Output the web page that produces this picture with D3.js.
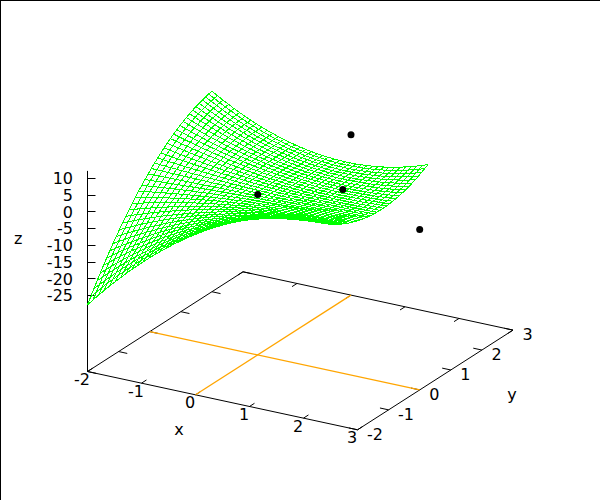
<!DOCTYPE html>
<html>
<head>
<meta charset="utf-8">
<script src="https://cdn.jsdelivr.net/npm/d3@7/dist/d3.min.js"></script>
<style>
html,body{margin:0;padding:0;background:#fff;}
svg{display:block;}
text{font-family:"DejaVu Sans",sans-serif;font-size:16px;fill:#000;}
</style>
</head>
<body>
<script>
const xTicks = [-2,-1,0,1,2,3];
const yTicks = [-2,-1,0,1,2,3];
const zTicks = [10,5,0,-5,-10,-15,-20,-25];
const sampleX = [-2,-1.8974,-1.7949,-1.6923,-1.5897,-1.4872,-1.3846,-1.2821,-1.1795,-1.0769,-0.9744,-0.8718,-0.7692,-0.6667,-0.5641,-0.4615,-0.359,-0.2564,-0.1538,-0.0513,0.0513,0.1538,0.2564,0.359,0.4615,0.5641,0.6667,0.7692,0.8718,0.9744,1.0769,1.1795,1.2821,1.3846,1.4872,1.5897,1.6923,1.7949,1.8974,2];
const sampleY = [-2,-1.8974,-1.7949,-1.6923,-1.5897,-1.4872,-1.3846,-1.2821,-1.1795,-1.0769,-0.9744,-0.8718,-0.7692,-0.6667,-0.5641,-0.4615,-0.359,-0.2564,-0.1538,-0.0513,0.0513,0.1538,0.2564,0.359,0.4615,0.5641,0.6667,0.7692,0.8718,0.9744,1.0769,1.1795,1.2821,1.3846,1.4872,1.5897,1.6923,1.7949,1.8974,2];
// Surface heights; the surface is mirror-symmetric in x and y, so each row i holds columns j = i..39.
const surfaceUpper = [
[-28,-26.18,-24.39,-22.65,-20.95,-19.3,-17.68,-16.11,-14.58,-13.09,-11.64,-10.24,-8.88,-7.56,-6.28,-5.04,-3.85,-2.7,-1.59,-0.52,0.51,1.49,2.43,3.33,4.19,5,5.78,6.51,7.2,7.84,8.45,9.01,9.53,10.01,10.45,10.84,11.2,11.51,11.78,12],
[-24.46,-22.79,-21.16,-19.57,-18.02,-16.5,-15.03,-13.6,-12.21,-10.86,-9.54,-8.27,-7.04,-5.85,-4.69,-3.58,-2.51,-1.47,-0.48,0.47,1.39,2.26,3.09,3.89,4.64,5.35,6.03,6.66,7.26,7.81,8.32,8.8,9.23,9.63,9.98,10.3,10.57,10.81,11],
[-21.23,-19.71,-18.22,-16.77,-15.36,-13.98,-12.65,-11.35,-10.09,-8.87,-7.68,-6.54,-5.43,-4.35,-3.32,-2.32,-1.37,-0.45,0.44,1.28,2.09,2.86,3.59,4.29,4.94,5.56,6.14,6.69,7.19,7.66,8.09,8.48,8.83,9.15,9.43,9.67,9.87,10.04],
[-18.29,-16.9,-15.55,-14.24,-12.96,-11.72,-10.51,-9.34,-8.21,-7.11,-6.05,-5.02,-4.03,-3.07,-2.15,-1.26,-0.41,0.4,1.18,1.93,2.63,3.31,3.94,4.54,5.11,5.64,6.13,6.59,7.02,7.4,7.75,8.07,8.35,8.6,8.8,8.98,9.12],
[-15.62,-14.37,-13.15,-11.97,-10.82,-9.7,-8.62,-7.57,-6.55,-5.57,-4.62,-3.71,-2.82,-1.97,-1.16,-0.38,0.37,1.09,1.77,2.42,3.03,3.61,4.16,4.67,5.15,5.6,6.01,6.39,6.74,7.05,7.33,7.58,7.79,7.97,8.12,8.23],
[-13.21,-12.09,-11,-9.94,-8.91,-7.91,-6.95,-6.01,-5.11,-4.24,-3.4,-2.59,-1.81,-1.06,-0.35,0.34,0.99,1.61,2.2,2.76,3.29,3.79,4.25,4.69,5.09,5.46,5.8,6.11,6.39,6.64,6.85,7.03,7.19,7.31,7.4],
[-11.06,-10.06,-9.09,-8.14,-7.23,-6.34,-5.49,-4.66,-3.86,-3.1,-2.36,-1.65,-0.97,-0.31,0.31,0.9,1.47,2,2.51,2.99,3.44,3.85,4.24,4.6,4.94,5.24,5.51,5.76,5.97,6.16,6.31,6.44,6.54,6.61],
[-9.15,-8.26,-7.4,-6.57,-5.76,-4.98,-4.23,-3.51,-2.81,-2.14,-1.49,-0.88,-0.29,0.28,0.81,1.32,1.81,2.26,2.69,3.09,3.46,3.81,4.13,4.42,4.69,4.93,5.14,5.33,5.49,5.62,5.72,5.8,5.85],
[-7.46,-6.68,-5.92,-5.19,-4.49,-3.81,-3.16,-2.53,-1.92,-1.34,-0.79,-0.26,0.25,0.73,1.19,1.62,2.03,2.41,2.76,3.1,3.4,3.68,3.94,4.17,4.38,4.57,4.72,4.86,4.97,5.05,5.11,5.14],
[-5.98,-5.3,-4.65,-4.01,-3.41,-2.82,-2.26,-1.71,-1.2,-0.7,-0.23,0.22,0.65,1.06,1.44,1.8,2.14,2.45,2.74,3.01,3.26,3.48,3.68,3.86,4.02,4.15,4.26,4.35,4.41,4.45,4.47],
[-4.7,-4.12,-3.56,-3.02,-2.5,-2,-1.52,-1.06,-0.62,-0.2,0.2,0.57,0.93,1.27,1.58,1.88,2.15,2.4,2.64,2.85,3.04,3.21,3.36,3.5,3.61,3.7,3.76,3.81,3.84,3.85],
[-3.61,-3.11,-2.64,-2.18,-1.74,-1.32,-0.92,-0.54,-0.18,0.17,0.5,0.81,1.1,1.37,1.63,1.87,2.08,2.28,2.46,2.63,2.77,2.9,3.01,3.1,3.17,3.22,3.25,3.27,3.27],
[-2.69,-2.27,-1.88,-1.5,-1.14,-0.79,-0.46,-0.15,0.15,0.43,0.69,0.94,1.17,1.39,1.59,1.77,1.94,2.09,2.23,2.35,2.45,2.54,2.61,2.67,2.7,2.73,2.73,2.72],
[-1.93,-1.59,-1.27,-0.96,-0.67,-0.39,-0.13,0.12,0.36,0.58,0.79,0.99,1.17,1.33,1.49,1.62,1.75,1.86,1.96,2.04,2.11,2.16,2.2,2.23,2.24,2.24,2.22],
[-1.31,-1.05,-0.79,-0.55,-0.32,-0.1,0.1,0.3,0.48,0.65,0.81,0.96,1.09,1.21,1.32,1.42,1.51,1.59,1.65,1.7,1.74,1.77,1.79,1.79,1.78,1.77],
[-0.84,-0.63,-0.44,-0.26,-0.08,0.08,0.24,0.38,0.51,0.64,0.75,0.86,0.96,1.04,1.12,1.19,1.24,1.29,1.33,1.36,1.37,1.38,1.38,1.37,1.35],
[-0.48,-0.33,-0.19,-0.06,0.06,0.18,0.29,0.39,0.48,0.57,0.64,0.72,0.78,0.83,0.88,0.92,0.96,0.98,1,1.01,1.01,1.01,1,0.98],
[-0.23,-0.14,-0.04,0.04,0.12,0.2,0.27,0.33,0.39,0.44,0.49,0.53,0.57,0.6,0.63,0.65,0.66,0.67,0.68,0.68,0.67,0.66,0.64],
[-0.08,-0.03,0.03,0.07,0.12,0.16,0.19,0.23,0.26,0.28,0.31,0.33,0.34,0.36,0.37,0.38,0.38,0.38,0.38,0.38,0.37,0.35],
[-0.01,0.01,0.02,0.04,0.05,0.06,0.07,0.08,0.09,0.1,0.1,0.11,0.11,0.12,0.12,0.12,0.12,0.12,0.12,0.11,0.11],
[-0.01,-0.02,-0.04,-0.05,-0.06,-0.07,-0.08,-0.09,-0.09,-0.1,-0.1,-0.11,-0.11,-0.11,-0.11,-0.11,-0.11,-0.11,-0.1,-0.1],
[-0.06,-0.1,-0.14,-0.17,-0.2,-0.22,-0.25,-0.26,-0.28,-0.29,-0.3,-0.31,-0.31,-0.31,-0.31,-0.3,-0.29,-0.28,-0.26],
[-0.16,-0.22,-0.27,-0.32,-0.36,-0.39,-0.42,-0.44,-0.46,-0.47,-0.48,-0.48,-0.48,-0.47,-0.46,-0.44,-0.41,-0.38],
[-0.29,-0.36,-0.42,-0.47,-0.52,-0.55,-0.58,-0.6,-0.62,-0.63,-0.62,-0.62,-0.6,-0.58,-0.55,-0.51,-0.46],
[-0.44,-0.51,-0.58,-0.63,-0.67,-0.7,-0.73,-0.74,-0.74,-0.74,-0.72,-0.7,-0.66,-0.62,-0.56,-0.5],
[-0.6,-0.67,-0.72,-0.77,-0.8,-0.83,-0.84,-0.84,-0.82,-0.8,-0.76,-0.71,-0.65,-0.58,-0.49],
[-0.74,-0.8,-0.85,-0.88,-0.9,-0.91,-0.9,-0.88,-0.84,-0.79,-0.72,-0.64,-0.55,-0.45],
[-0.87,-0.91,-0.94,-0.96,-0.95,-0.94,-0.9,-0.85,-0.78,-0.7,-0.6,-0.49,-0.36],
[-0.96,-0.98,-0.99,-0.98,-0.95,-0.9,-0.83,-0.75,-0.64,-0.52,-0.38,-0.22],
[-1,-1,-0.97,-0.93,-0.86,-0.78,-0.68,-0.55,-0.4,-0.24,-0.05],
[-0.98,-0.94,-0.89,-0.8,-0.7,-0.57,-0.42,-0.25,-0.05,0.17],
[-0.89,-0.81,-0.71,-0.59,-0.43,-0.26,-0.05,0.17,0.42],
[-0.72,-0.59,-0.44,-0.26,-0.06,0.18,0.44,0.72],
[-0.44,-0.26,-0.06,0.18,0.45,0.74,1.07],
[-0.06,0.18,0.45,0.75,1.09,1.45],
[0.45,0.76,1.1,1.47,1.88],
[1.1,1.48,1.89,2.34],
[1.9,2.36,2.85],
[2.86,3.41],
[4]
];
const pointX = [0,0,3,1];
const pointY = [0,3,0,1];
const pointZ = [0,0,0,-1];

const surfaceAt = (i,j) => i<=j ? surfaceUpper[i][j-i] : surfaceUpper[j][i-j];

const svg = d3.select("body").append("svg").attr("width",600).attr("height",500);
svg.append("rect").attr("width",600).attr("height",500).attr("fill","#fff");

const ox = 87.5, oy = 371.5;
const xToDx = d3.scaleLinear().domain([-2,3]).range([0,270]);
const xToDy = d3.scaleLinear().domain([-2,3]).range([0,58.3]);
const yToDx = d3.scaleLinear().domain([-2,3]).range([0,155.5]);
const yToDy = d3.scaleLinear().domain([-2,3]).range([0,-99.7]);
const zToDy = d3.scaleLinear().domain([-47.9,12]).range([0,-200.6]);
const zTickY = d3.scaleLinear().domain([-25,10]).range([295.5,178.5]);
const zBase = zToDy.domain()[0];
const proj = (x,y,z) => [ox+xToDx(x)+yToDx(y), oy+xToDy(x)+yToDy(y)+zToDy(z)];
const floor = (x,y) => proj(x,y,zBase);
const line = d3.line();
const xMin = xTicks[0], xMax = xTicks[xTicks.length-1];
const yMin = yTicks[0], yMax = yTicks[yTicks.length-1];

function seg(g, a, b, color, w){
  g.append("path").attr("d",line([a,b])).attr("fill","none").attr("stroke",color).attr("stroke-width",w||1);
}
const axes = svg.append("g");
// page frame edges
seg(axes,[0.5,0],[0.5,500],"#000");
seg(axes,[0,0.5],[600,0.5],"#000");
// floor
axes.append("path").attr("d",line([floor(xMin,yMin),floor(xMax,yMin),floor(xMax,yMax),floor(xMin,yMax)])+"Z")
  .attr("fill","none").attr("stroke","#000").attr("stroke-width",1);
// z axis
seg(axes,[ox,oy],[ox,oy+zToDy(12)],"#000");
zTicks.forEach(t=>{ const y=Math.round(zTickY(t)-0.5)+0.5; seg(axes,[ox,y],[ox+8,y],"#000"); });
// floor ticks, on both sides
const tl = 0.16;
xTicks.forEach(t=>{
  seg(axes,floor(t,yMin),floor(t,yMin+tl),"#000");
  seg(axes,floor(t,yMax),floor(t,yMax-tl),"#000");
});
yTicks.forEach(t=>{
  seg(axes,floor(xMin,t),floor(xMin+tl,t),"#000");
  seg(axes,floor(xMax,t),floor(xMax-tl,t),"#000");
});
// zero axes
seg(axes,floor(0,yMin),floor(0,yMax),"#ffa500",1.25);
seg(axes,floor(xMin,0),floor(xMax,0),"#ffa500",1.25);

// surface mesh
const mesh = svg.append("g").attr("fill","none").attr("stroke","#00ff00").attr("stroke-width",1).attr("shape-rendering","crispEdges");
mesh.selectAll("path.row").data(sampleX).join("path").attr("class","row")
  .attr("d",(x,i)=>line(sampleY.map((y,j)=>proj(x,y,surfaceAt(i,j)))));
mesh.selectAll("path.col").data(sampleY).join("path").attr("class","col")
  .attr("d",(y,j)=>line(sampleX.map((x,i)=>proj(x,y,surfaceAt(i,j)))));

// points
svg.append("g").selectAll("circle").data(pointX).join("circle")
  .attr("cx",(x,i)=>proj(x,pointY[i],pointZ[i])[0])
  .attr("cy",(x,i)=>proj(x,pointY[i],pointZ[i])[1])
  .attr("r",3.5).attr("fill","#000");

// labels
const labels = svg.append("g");
xTicks.forEach(t=>{
  const p=floor(t,yMin);
  labels.append("text").attr("x",p[0]-5.5).attr("y",p[1]+13.5).attr("text-anchor","middle").text(String(t));
});
yTicks.forEach(t=>{
  const p=floor(xMax,t);
  labels.append("text").attr("x",p[0]+9.5).attr("y",p[1]+9.8).attr("text-anchor","start").text(String(t));
});
zTicks.forEach(t=>{
  labels.append("text").attr("x",73).attr("y",zTickY(t)+5.8).attr("text-anchor","end").text(String(t));
});
labels.append("text").attr("x",179).attr("y",435).attr("text-anchor","middle").text("x");
labels.append("text").attr("x",512).attr("y",400).attr("text-anchor","middle").text("y");
labels.append("text").attr("x",18.3).attr("y",244).attr("text-anchor","middle").text("z");
</script>
</body>
</html>
